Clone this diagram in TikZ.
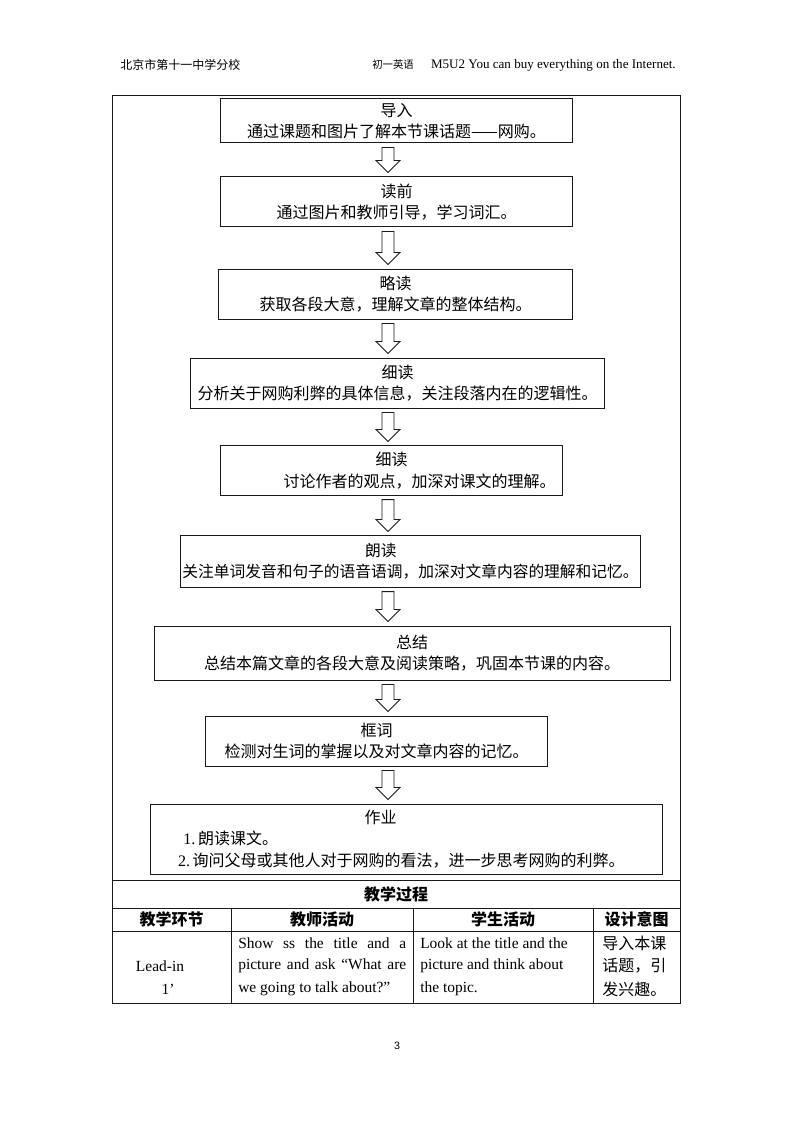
\documentclass[tikz,border=0pt]{standalone}
\usepackage{fontspec}
\setmainfont{Liberation Serif}
\setsansfont{Liberation Sans}
\newfontfamily\cjk{Noto Sans CJK SC}
\usepackage{tikz}
\usetikzlibrary{positioning, calc}
\definecolor{mydark}{RGB}{25,25,25}
\tikzset{
  stepbox/.style={rectangle, draw=mydark, line width=0.75pt, inner sep=2pt,
    align=center, font=\fontsize{12}{16}\selectfont\cjk},
  flowarrow/.style={draw=mydark, line width=0.7pt, fill=white, line join=miter},
  gridline/.style={line width=0.75pt, color=mydark},
  headcell/.style={font=\fontsize{12}{14}\selectfont\cjk\bfseries, inner sep=0pt},
  bodytext/.style={font=\fontsize{11.6}{13}\selectfont, anchor=west, inner sep=0pt},
  cjktext/.style={font=\fontsize{12}{14}\selectfont\cjk, anchor=west, inner sep=0pt},
  pagehead/.style={font=\fontsize{9.8}{11}\selectfont, inner sep=0pt}
}
% hollow down arrow from one step to the next
\newcommand{\flowdown}[2]{%
  \path (#1.south -| ax) ++(0,4) coordinate (s) (#2.north -| ax) ++(0,-4) coordinate (e);
  \draw[flowarrow] ($(s)+(-6,0)$) -- ($(e)+(-6,-12)$) -- ($(e)+(-12,-12)$) -- (e)
    -- ($(e)+(12,-12)$) -- ($(e)+(6,-12)$) -- ($(s)+(6,0)$) -- cycle;}

\begin{document}
\begin{tikzpicture}[x=0.75pt, y=-0.75pt]
  \useasboundingbox (0,0) rectangle (794,1123);
  % ── page header ───────────────────────────────────────────────
  \node[pagehead, anchor=west, font=\fontsize{9}{10}\selectfont\cjk] (school) at (120,65) {北京市第十一中学分校};
  \node[pagehead, anchor=west, font=\fontsize{7.8}{9}\selectfont\cjk] (grade) at (372,65) {初一英语};
  \node[pagehead, anchor=east] (unit) at (676,65) {M5U2 You can buy everything on the Internet.};

  % ── outer frame and table rules ───────────────────────────────
  \draw[gridline] (112,96) rectangle (680,1003);
  \draw[gridline] (112,880) -- (680,880);
  \draw[gridline] (112,908) -- (680,908);
  \draw[gridline] (112,931) -- (680,931);
  \foreach \cx in {231,413,593}
    \draw[gridline] (\cx,908) -- (\cx,1003);

  % ── flow chart steps ──────────────────────────────────────────
  \coordinate (ax) at (388,0);
  \node[stepbox, minimum width=263.3pt, minimum height=33pt] (lead) at (396.5,121)
    {导入\\通过课题和图片了解本节课话题——网购。};
  \node[stepbox, minimum width=263.3pt, minimum height=37.5pt] (preread) at (396.5,202)
    {读前\\通过图片和教师引导，学习词汇。};
  \node[stepbox, minimum width=264.8pt, minimum height=37.5pt] (skim) at (395.5,294)
    {略读\\获取各段大意，理解文章的整体结构。};
  \node[stepbox, minimum width=309.8pt, minimum height=37.5pt] (detail) at (397.5,383)
    {细读\\分析关于网购利弊的具体信息，关注段落内在的逻辑性。};
  \node[stepbox, minimum width=255.8pt, minimum height=36.8pt] (discuss) at (391.5,470.5)
    {细读\\\hspace*{42pt}讨论作者的观点，加深对课文的理解。};
  \node[stepbox, align=left, inner xsep=0pt, minimum width=344.3pt, minimum height=38.3pt,
    font=\fontsize{11.8}{16}\selectfont\cjk] (aloud) at (410.5,561.5)
    {\hspace*{137pt}朗读\\关注单词发音和句子的语音语调，加深对文章内容的理解和记忆。};
  \node[stepbox, minimum width=387pt, minimum height=40.5pt] (summary) at (412,653)
    {总结\\总结本篇文章的各段大意及阅读策略，巩固本节课的内容。};
  \node[stepbox, minimum width=255.8pt, minimum height=37.5pt] (wordcheck) at (376.5,741)
    {框词\\检测对生词的掌握以及对文章内容的记忆。};
  \node[stepbox, align=left, inner xsep=0pt, text width=384pt, minimum height=52.5pt] (homework) at (406,839)
    {\hspace*{161pt}作业\\
     \hspace*{25pt}{\rmfamily 1.\,}朗读课文。\\
     \hspace*{21pt}{\rmfamily 2.\,}询问父母或其他人对于网购的看法，进一步思考网购的利弊。};

  \flowdown{lead}{preread}
  \flowdown{preread}{skim}
  \flowdown{skim}{detail}
  \flowdown{detail}{discuss}
  \flowdown{discuss}{aloud}
  \flowdown{aloud}{summary}
  \flowdown{summary}{wordcheck}
  \flowdown{wordcheck}{homework}

  % ── teaching process table ────────────────────────────────────
  \node[headcell] (process) at (396,894) {教学过程};
  \node[headcell] (hstage) at (171.5,919.5) {教学环节};
  \node[headcell] (hteacher) at (322,919.5) {教师活动};
  \node[headcell] (hstudent) at (503,919.5) {学生活动};
  \node[headcell] (hintent) at (636.5,919.5) {设计意图};

  \node[bodytext, anchor=center] (stage1) at (160,966) {Lead-in};
  \node[bodytext, anchor=center] (stage2) at (168,989) {1’};

  \node[bodytext] (teach1) at (238,943) {\makebox[126pt][s]{Show ss the title and a}};
  \node[bodytext] (teach2) at (238,966) {\makebox[126pt][s]{picture and ask “What are}};
  \node[bodytext] (teach3) at (238,989) {we going to talk about?”};

  \node[bodytext] (learn1) at (420,943) {Look at the title and the};
  \node[bodytext] (learn2) at (420,966) {picture and think about};
  \node[bodytext] (learn3) at (420,989) {the topic.};

  \node[cjktext] (aim1) at (602,943) {导入本课};
  \node[cjktext] (aim2) at (602,966) {话题，引};
  \node[cjktext] (aim3) at (602,989) {发兴趣。};

  % ── page number ───────────────────────────────────────────────
  \node[font=\fontsize{8}{9}\selectfont\sffamily, inner sep=0pt] (pageno) at (397,1046) {3};
\end{tikzpicture}
\end{document}
